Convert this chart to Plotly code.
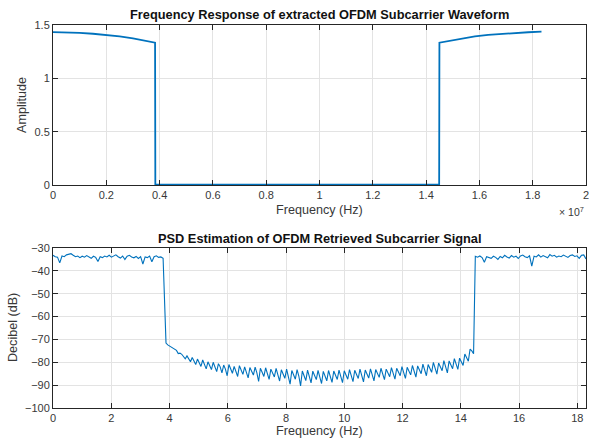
import numpy as np
import plotly.graph_objects as go

# ---------------- data ----------------
# Top: frequency response (frequency in units of 1e7 Hz)
top_left_freq = [0.0, 0.05, 0.10, 0.15, 0.20, 0.25, 0.30, 0.35, 0.383]
top_left_amp = [1.434, 1.432, 1.426, 1.418, 1.408, 1.393, 1.375, 1.350, 1.334]
top_stop_freq = [0.384, 0.386, 0.60, 0.80, 1.00, 1.20, 1.40, 1.448, 1.449]
top_stop_amp = [0.004, 0.004, 0.005, 0.004, 0.005, 0.004, 0.005, 0.004, 0.004]
top_right_freq = [1.450, 1.483, 1.533, 1.583, 1.633, 1.683, 1.733, 1.783, 1.833]
top_right_amp = [1.334, 1.350, 1.375, 1.393, 1.408, 1.418, 1.426, 1.432, 1.437]
top_xticks = [0, 0.2, 0.4, 0.6, 0.8, 1.0, 1.2, 1.4, 1.6, 1.8, 2.0]
top_xticklabels = ["0", "0.2", "0.4", "0.6", "0.8", "1", "1.2", "1.4", "1.6", "1.8", "2"]
top_yticks = [0, 0.5, 1, 1.5]

# Bottom: PSD (frequency in MHz-like units as on axis)
psd_left_start, psd_left_end = 0.0, 3.78
psd_left_db = [-33.2, -33.8, -34.0, -36.5, -33.5, -33.8, -33.0, -32.6, -32.5, -33.2,
               -33.8, -33.5, -34.2, -33.6, -34.0, -33.3, -33.9, -34.5, -33.6, -34.1,
               -35.9, -33.8, -34.2, -33.5, -33.9, -33.2, -34.0, -33.4, -33.0, -33.8,
               -34.4, -33.5, -35.0, -33.6, -33.2, -33.9, -34.3, -33.7, -34.6, -33.8,
               -37.0, -33.9, -34.2, -33.5, -36.0, -33.8, -33.4, -34.1, -33.9, -34.5]
psd_mid_start, psd_mid_end = 3.88, 14.44
psd_mid_db = [
    -71.6, -72.4, -72.9, -73.2, -74.0, -74.6, -74.8, -76.2, -76.0, -76.5, -77.8, -78.5,
    -77.2, -78.6, -79.8, -77.9, -79.5, -81.0, -78.6, -80.4, -81.8, -79.0, -81.0, -82.9,
    -79.8, -81.5, -83.2, -80.0, -82.2, -84.1, -80.6, -82.0, -84.6, -81.2, -83.0, -85.9,
    -81.0, -83.3, -84.8, -81.8, -83.8, -86.2, -81.5, -83.5, -85.3, -82.0, -84.2, -86.8,
    -82.3, -84.0, -85.6, -82.1, -84.6, -88.4, -82.6, -84.4, -86.2, -82.4, -85.0, -87.5,
    -83.0, -84.8, -86.4, -82.7, -85.3, -88.2, -83.3, -85.1, -87.0, -83.0, -85.8, -89.6,
    -83.6, -85.6, -87.4, -83.2, -86.0, -90.3, -83.8, -85.9, -88.0, -83.4, -86.3, -89.0,
    -83.9, -85.8, -87.6, -83.5, -86.2, -89.3, -84.0, -85.9, -88.1, -83.6, -86.1, -88.8,
    -83.8, -85.7, -87.5, -83.4, -86.0, -88.9, -83.7, -85.6, -87.4, -83.2, -85.8, -88.5,
    -83.5, -85.3, -87.1, -83.0, -85.6, -88.6, -83.4, -85.2, -86.9, -82.9, -85.4, -88.1,
    -83.2, -85.0, -86.6, -82.6, -85.1, -87.6, -83.0, -84.7, -86.3, -82.3, -84.8, -87.4,
    -82.6, -84.3, -85.9, -81.9, -84.4, -87.0, -82.2, -83.8, -85.5, -81.4, -83.9, -86.5,
    -81.6, -83.2, -85.0, -80.8, -83.2, -85.9, -81.0, -82.6, -84.4, -80.0, -82.4, -85.2,
    -80.3, -81.8, -83.7, -79.3, -81.5, -84.6, -79.4, -80.9, -82.8, -78.4, -80.4, -83.1,
    -78.2, -79.6, -81.4, -76.4, -78.2, -79.5, -74.2, -75.0, -76.3]
psd_right_start, psd_right_end = 14.50, 18.30
psd_right_db = [-33.6, -34.0, -33.5, -34.2, -36.2, -33.8, -34.0, -34.5, -33.6, -34.1,
                -35.0, -33.7, -34.3, -33.2, -33.9, -34.4, -33.3, -34.0, -33.6, -34.6,
                -33.5, -33.1, -33.8, -34.2, -33.4, -37.9, -33.6, -33.9, -33.0, -34.0,
                -33.3, -33.7, -34.3, -32.9, -33.6, -33.2, -34.0, -33.5, -33.8, -33.1,
                -33.6, -34.1, -33.3, -33.0, -33.7, -33.4, -34.5, -33.2, -33.0, -34.8]
bot_xticks = [0, 2, 4, 6, 8, 10, 12, 14, 16, 18]
bot_yticks = [-100, -90, -80, -70, -60, -50, -40, -30]

# ---------------- build ----------------
blue = "#0072BD"
top_x = top_left_freq + top_stop_freq + top_right_freq
top_y = top_left_amp + top_stop_amp + top_right_amp

psd_x = np.concatenate([
    np.linspace(psd_left_start, psd_left_end, len(psd_left_db)),
    np.linspace(psd_mid_start, psd_mid_end, len(psd_mid_db)),
    np.linspace(psd_right_start, psd_right_end, len(psd_right_db)),
])
psd_y = np.array(psd_left_db + psd_mid_db + psd_right_db)

W, H = 589, 439
xl, xr = 53 / W, 586 / W
y1b, y1t = 1 - 185 / H, 1 - 25 / H
y2b, y2t = 1 - 408 / H, 1 - 248 / H

fig = go.Figure()
fig.add_trace(go.Scatter(x=top_x, y=top_y, mode="lines",
                         line=dict(color=blue, width=1.8), xaxis="x", yaxis="y",
                         showlegend=False, hoverinfo="skip"))
fig.add_trace(go.Scatter(x=psd_x, y=psd_y, mode="lines",
                         line=dict(color=blue, width=1.1), xaxis="x2", yaxis="y2",
                         showlegend=False, hoverinfo="skip"))

font = "Liberation Sans, Arial, sans-serif"
tickfont = dict(family=font, size=11, color="#383838")
axis_common = dict(showline=True, linecolor="#262626", linewidth=1, mirror="ticks",
                   ticks="inside", ticklen=5, tickcolor="#262626",
                   showgrid=True, gridcolor="#e3e3e3", gridwidth=1,
                   zeroline=False, tickfont=tickfont, automargin=False,
                   ticklabeloverflow="allow")

fig.update_layout(
    width=W, height=H, margin=dict(l=0, r=0, t=0, b=0, autoexpand=False),
    paper_bgcolor="white", plot_bgcolor="white",
    xaxis=dict(domain=[xl, xr], anchor="y", range=[0, 2.00001],
               tickvals=top_xticks, ticktext=top_xticklabels, **axis_common),
    yaxis=dict(domain=[y1b, y1t], anchor="x", range=[0, 1.50001],
               tickvals=top_yticks, ticktext=["0", "0.5", "1", "1.5"], **axis_common),
    xaxis2=dict(domain=[xl, xr], anchor="y2", range=[0, 18.3],
                tickvals=bot_xticks, **axis_common),
    yaxis2=dict(domain=[y2b, y2t], anchor="x2", range=[-100, -30],
                tickvals=bot_yticks, **axis_common),
)

labfont = dict(family=font, size=12.6, color="#383838")
titfont = dict(family=font, size=12.8, color="#111111")
ann = [
    dict(text="<b>Frequency Response of extracted OFDM Subcarrier Waveform</b>",
         x=(xl + xr) / 2, y=1 - 15 / H, font=titfont),
    dict(text="<b>PSD Estimation of OFDM Retrieved Subcarrier Signal</b>",
         x=(xl + xr) / 2, y=1 - 238 / H, font=titfont),
    dict(text="Frequency (Hz)", x=(xl + xr) / 2, y=1 - 210 / H, font=labfont),
    dict(text="Frequency (Hz)", x=(xl + xr) / 2, y=1 - 431 / H, font=labfont),
    dict(text="Amplitude", x=22 / W, y=1 - 105 / H, font=labfont, textangle=-90),
    dict(text="Decibel (dB)", x=13 / W, y=1 - 328 / H, font=labfont, textangle=-90),
    dict(text="\u00d7 10<sup>7</sup>", x=586 / W, y=1 - 211 / H, xanchor="right",
         font=dict(family=font, size=10.5, color="#383838")),
]
for a in ann:
    a.setdefault("xanchor", "center")
    a.update(xref="paper", yref="paper", showarrow=False, yanchor="middle")
    fig.add_annotation(**a)

fig.write_html("out.html")
